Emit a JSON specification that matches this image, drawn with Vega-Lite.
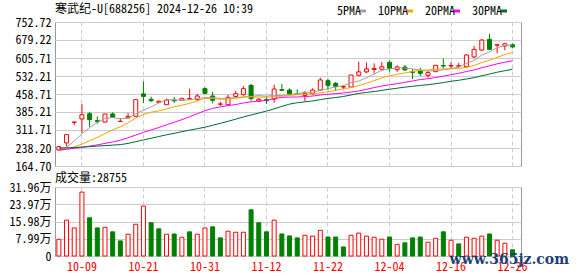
{
  "$schema": "https://vega.github.io/schema/vega-lite/v6.json",
  "padding": {"left": 8, "top": 2, "right": 0, "bottom": 0},
  "bounds": "flush",
  "spacing": 21,
  "background": "#ffffff",
  "title": {"text": "www.365jz.com", "orient": "bottom", "anchor": "end", "frame": "group", "dx": 48, "offset": -20, "font": "DejaVu Serif", "fontSize": 14, "fontWeight": "bold", "color": "#1c3f75"},
  "config": {
    "font": "Noto Sans Mono CJK SC, Noto Sans CJK SC, DejaVu Sans Mono",
    "view": {"stroke": "#999999", "strokeWidth": 1},
    "axis": {
      "labelFont": "Noto Sans Mono CJK SC, Noto Sans CJK SC, DejaVu Sans Mono",
      "labelFontSize": 12,
      "labelColor": "#000000",
      "labelOverlap": false,
      "gridColor": "#cccccc",
      "gridOpacity": 1,
      "ticks": false,
      "domain": false
    },
    "title": {"font": "Noto Sans Mono CJK SC, Noto Sans CJK SC", "fontSize": 12, "fontWeight": "normal", "color": "#000000", "anchor": "start", "frame": "group"}
  },
  "data": {
    "values": [
      {"d": "09-27", "o": 230, "h": 246, "l": 228, "c": 243.6, "v": 7.76, "vu": 1, "5PMA": 228, "10PMA": 228, "20PMA": 230, "30PMA": 238},
      {"d": "09-30", "o": 259, "h": 293, "l": 245, "c": 293, "v": 16.6, "vu": 1, "5PMA": 242, "10PMA": 233, "20PMA": 233, "30PMA": 239},
      {"d": "10-08", "o": 343, "h": 344.4, "l": 331, "c": 344.4, "v": 13.0, "vu": 1, "5PMA": 266, "10PMA": 243, "20PMA": 237, "30PMA": 240},
      {"d": "10-09", "o": 356.6, "h": 418, "l": 300, "c": 374, "v": 29.6, "vu": 1, "5PMA": 296, "10PMA": 254, "20PMA": 241, "30PMA": 242},
      {"d": "10-10", "o": 378, "h": 385, "l": 325, "c": 354, "v": 17.7, "vu": 0, "5PMA": 321.8, "10PMA": 268, "20PMA": 246, "30PMA": 244},
      {"d": "10-11", "o": 350, "h": 367, "l": 338, "c": 346, "v": 13.0, "vu": 0, "5PMA": 342.3, "10PMA": 281, "20PMA": 251, "30PMA": 246},
      {"d": "10-14", "o": 344, "h": 378, "l": 343, "c": 377, "v": 13.3, "vu": 1, "5PMA": 359.1, "10PMA": 297, "20PMA": 257, "30PMA": 248},
      {"d": "10-15", "o": 377, "h": 384, "l": 361, "c": 363, "v": 11.2, "vu": 0, "5PMA": 362.8, "10PMA": 312, "20PMA": 263, "30PMA": 250},
      {"d": "10-16", "o": 346.5, "h": 360, "l": 345, "c": 347, "v": 7.0, "vu": 0, "5PMA": 357.4, "10PMA": 325, "20PMA": 270, "30PMA": 252},
      {"d": "10-17", "o": 361, "h": 381, "l": 359, "c": 367, "v": 10.1, "vu": 1, "5PMA": 360, "10PMA": 340.9, "20PMA": 280, "30PMA": 257},
      {"d": "10-18", "o": 367.5, "h": 436, "l": 366, "c": 435.6, "v": 14.7, "vu": 1, "5PMA": 377.9, "10PMA": 360.1, "20PMA": 291, "30PMA": 264},
      {"d": "10-21", "o": 459, "h": 510, "l": 422, "c": 449, "v": 23.1, "vu": 1, "5PMA": 392.3, "10PMA": 375.7, "20PMA": 302, "30PMA": 271},
      {"d": "10-22", "o": 437, "h": 448, "l": 426, "c": 431.5, "v": 15.4, "vu": 0, "5PMA": 406, "10PMA": 384.4, "20PMA": 312, "30PMA": 278},
      {"d": "10-23", "o": 425, "h": 432, "l": 421, "c": 429, "v": 12.6, "vu": 0, "5PMA": 422.4, "10PMA": 389.9, "20PMA": 322, "30PMA": 285},
      {"d": "10-24", "o": 415, "h": 440, "l": 414, "c": 434, "v": 10.1, "vu": 1, "5PMA": 435.8, "10PMA": 397.9, "20PMA": 333, "30PMA": 292},
      {"d": "10-25", "o": 434, "h": 446, "l": 422, "c": 431, "v": 10.2, "vu": 0, "5PMA": 434.9, "10PMA": 406.4, "20PMA": 343, "30PMA": 298},
      {"d": "10-28", "o": 433, "h": 442, "l": 431, "c": 441, "v": 8.7, "vu": 1, "5PMA": 433.3, "10PMA": 412.8, "20PMA": 354, "30PMA": 305},
      {"d": "10-29", "o": 438, "h": 480, "l": 437, "c": 440, "v": 11.2, "vu": 0, "5PMA": 435, "10PMA": 420.5, "20PMA": 366, "30PMA": 311},
      {"d": "10-30", "o": 437, "h": 459, "l": 429, "c": 450.5, "v": 10.1, "vu": 1, "5PMA": 439.3, "10PMA": 430.9, "20PMA": 378, "30PMA": 317},
      {"d": "10-31", "o": 480.5, "h": 486, "l": 460, "c": 461.4, "v": 13.0, "vu": 1, "5PMA": 444.8, "10PMA": 440.3, "20PMA": 390.6, "30PMA": 323},
      {"d": "11-01", "o": 450.5, "h": 467, "l": 420.6, "c": 433, "v": 13.5, "vu": 0, "5PMA": 445.2, "10PMA": 440.0, "20PMA": 400.1, "30PMA": 331},
      {"d": "11-04", "o": 417, "h": 426, "l": 410, "c": 418, "v": 8.4, "vu": 0, "5PMA": 440.6, "10PMA": 436.9, "20PMA": 406.3, "30PMA": 339},
      {"d": "11-05", "o": 415, "h": 456, "l": 412, "c": 445, "v": 11.5, "vu": 1, "5PMA": 441.6, "10PMA": 438.3, "20PMA": 411.4, "30PMA": 347},
      {"d": "11-06", "o": 449, "h": 472, "l": 446, "c": 460, "v": 11.0, "vu": 1, "5PMA": 443.5, "10PMA": 441.4, "20PMA": 415.7, "30PMA": 356},
      {"d": "11-07", "o": 456, "h": 491, "l": 452, "c": 480.5, "v": 11.0, "vu": 1, "5PMA": 447.3, "10PMA": 446.0, "20PMA": 422.0, "30PMA": 365},
      {"d": "11-08", "o": 494, "h": 500, "l": 431, "c": 440, "v": 21.4, "vu": 0, "5PMA": 448.7, "10PMA": 446.9, "20PMA": 426.7, "30PMA": 373},
      {"d": "11-11", "o": 429, "h": 442, "l": 426, "c": 437, "v": 15.4, "vu": 0, "5PMA": 452.5, "10PMA": 446.5, "20PMA": 429.7, "30PMA": 381},
      {"d": "11-12", "o": 436, "h": 449, "l": 418, "c": 431, "v": 11.2, "vu": 0, "5PMA": 449.7, "10PMA": 445.6, "20PMA": 433.1, "30PMA": 389},
      {"d": "11-13", "o": 438, "h": 497, "l": 423, "c": 479, "v": 16.6, "vu": 1, "5PMA": 453.5, "10PMA": 448.5, "20PMA": 439.7, "30PMA": 398},
      {"d": "11-14", "o": 477, "h": 500, "l": 470, "c": 474, "v": 10.2, "vu": 0, "5PMA": 452.2, "10PMA": 449.8, "20PMA": 445.0, "30PMA": 408},
      {"d": "11-15", "o": 475, "h": 482, "l": 455, "c": 459, "v": 9.3, "vu": 0, "5PMA": 456, "10PMA": 452.4, "20PMA": 446.2, "30PMA": 417.5},
      {"d": "11-18", "o": 460, "h": 478, "l": 455, "c": 457, "v": 8.4, "vu": 0, "5PMA": 460, "10PMA": 456.3, "20PMA": 446.6, "30PMA": 423.0},
      {"d": "11-19", "o": 453, "h": 471, "l": 430, "c": 461, "v": 9.6, "vu": 1, "5PMA": 466, "10PMA": 457.9, "20PMA": 448.1, "30PMA": 426.9},
      {"d": "11-20", "o": 459, "h": 482, "l": 456, "c": 475, "v": 9.2, "vu": 1, "5PMA": 465.2, "10PMA": 459.4, "20PMA": 450.4, "30PMA": 430.3},
      {"d": "11-21", "o": 475, "h": 525, "l": 472, "c": 516, "v": 11.9, "vu": 1, "5PMA": 473.6, "10PMA": 462.9, "20PMA": 454.5, "30PMA": 435.7},
      {"d": "11-22", "o": 513, "h": 521, "l": 474, "c": 494, "v": 8.8, "vu": 0, "5PMA": 480.6, "10PMA": 468.3, "20PMA": 457.7, "30PMA": 440.6},
      {"d": "11-25", "o": 502, "h": 508, "l": 472, "c": 490, "v": 8.8, "vu": 0, "5PMA": 487.2, "10PMA": 473.6, "20PMA": 460.1, "30PMA": 444.3},
      {"d": "11-26", "o": 487, "h": 495, "l": 478, "c": 489, "v": 4.2, "vu": 0, "5PMA": 492.8, "10PMA": 479.4, "20PMA": 462.6, "30PMA": 448.6},
      {"d": "11-27", "o": 487, "h": 537, "l": 484, "c": 536, "v": 9.6, "vu": 1, "5PMA": 505, "10PMA": 485.1, "20PMA": 466.8, "30PMA": 454.9},
      {"d": "11-28", "o": 535, "h": 591, "l": 532, "c": 549, "v": 10.6, "vu": 1, "5PMA": 511.6, "10PMA": 492.6, "20PMA": 471.2, "30PMA": 460.9},
      {"d": "11-29", "o": 549, "h": 588, "l": 543, "c": 561, "v": 9.2, "vu": 1, "5PMA": 525, "10PMA": 502.8, "20PMA": 477.6, "30PMA": 465.1},
      {"d": "12-02", "o": 559, "h": 584, "l": 543, "c": 563, "v": 8.7, "vu": 1, "5PMA": 539.6, "10PMA": 513.4, "20PMA": 484.9, "30PMA": 468.9},
      {"d": "12-03", "o": 560, "h": 589, "l": 555, "c": 570, "v": 7.8, "vu": 1, "5PMA": 555.8, "10PMA": 524.3, "20PMA": 491.1, "30PMA": 473.5},
      {"d": "12-04", "o": 588, "h": 595, "l": 550, "c": 563.5, "v": 8.8, "vu": 0, "5PMA": 561.3, "10PMA": 533.2, "20PMA": 496.3, "30PMA": 478.0},
      {"d": "12-05", "o": 558, "h": 576, "l": 549, "c": 569, "v": 5.4, "vu": 1, "5PMA": 565.3, "10PMA": 538.5, "20PMA": 500.7, "30PMA": 482.5},
      {"d": "12-06", "o": 569, "h": 577, "l": 553, "c": 557, "v": 6.1, "vu": 0, "5PMA": 564.5, "10PMA": 544.8, "20PMA": 506.6, "30PMA": 486.7},
      {"d": "12-09", "o": 550, "h": 560, "l": 519, "c": 547, "v": 8.4, "vu": 0, "5PMA": 561.3, "10PMA": 550.5, "20PMA": 512.1, "30PMA": 490.2},
      {"d": "12-10", "o": 555, "h": 566, "l": 532, "c": 543, "v": 8.8, "vu": 0, "5PMA": 555.9, "10PMA": 555.9, "20PMA": 517.7, "30PMA": 493.7},
      {"d": "12-11", "o": 535, "h": 553, "l": 525, "c": 546, "v": 6.4, "vu": 1, "5PMA": 552.4, "10PMA": 556.9, "20PMA": 521.0, "30PMA": 496.8},
      {"d": "12-12", "o": 550, "h": 577, "l": 548, "c": 576, "v": 8.2, "vu": 1, "5PMA": 553.8, "10PMA": 559.6, "20PMA": 526.1, "30PMA": 500.7},
      {"d": "12-13", "o": 575, "h": 603, "l": 562, "c": 573, "v": 11.2, "vu": 0, "5PMA": 557, "10PMA": 560.8, "20PMA": 531.8, "30PMA": 505.3},
      {"d": "12-16", "o": 573, "h": 589, "l": 560, "c": 575, "v": 7.3, "vu": 1, "5PMA": 562.6, "10PMA": 562.0, "20PMA": 537.6, "30PMA": 510.6},
      {"d": "12-17", "o": 572, "h": 586, "l": 566, "c": 574, "v": 5.6, "vu": 0, "5PMA": 568.8, "10PMA": 562.4, "20PMA": 543.3, "30PMA": 514.7},
      {"d": "12-18", "o": 570, "h": 621, "l": 567, "c": 618, "v": 8.7, "vu": 1, "5PMA": 583.2, "10PMA": 567.8, "20PMA": 550.5, "30PMA": 519.9},
      {"d": "12-19", "o": 610, "h": 655, "l": 606, "c": 641, "v": 8.2, "vu": 1, "5PMA": 596.2, "10PMA": 575.0, "20PMA": 556.7, "30PMA": 525.3},
      {"d": "12-20", "o": 638, "h": 682, "l": 636, "c": 679, "v": 9.2, "vu": 1, "5PMA": 617.4, "10PMA": 587.2, "20PMA": 566.0, "30PMA": 533.3},
      {"d": "12-23", "o": 682, "h": 705, "l": 637, "c": 641, "v": 10.2, "vu": 0, "5PMA": 630.6, "10PMA": 596.6, "20PMA": 573.5, "30PMA": 540.1},
      {"d": "12-24", "o": 658, "h": 661, "l": 625, "c": 660, "v": 7.3, "vu": 1, "5PMA": 647.8, "10PMA": 608.3, "20PMA": 582.1, "30PMA": 547.7},
      {"d": "12-25", "o": 655, "h": 668, "l": 637, "c": 664, "v": 5.9, "vu": 1, "5PMA": 657, "10PMA": 620.1, "20PMA": 588.5, "30PMA": 553.9},
      {"d": "12-26", "o": 660, "h": 666, "l": 645, "c": 651, "v": 2.8755, "vu": 0, "5PMA": 659, "10PMA": 627.6, "20PMA": 593.6, "30PMA": 559.8}
    ]
  },
  "vconcat": [
    {
      "width": 466,
      "height": 144,
      "title": {"text": "寒武纪-U[688256] 2024-12-26 10:39", "offset": 0},
      "encoding": {
        "x": {
          "field": "d", "type": "ordinal",
          "scale": {"type": "band", "paddingInner": 0, "paddingOuter": 0.3, "align": 0},
          "axis": {"labels": false, "ticks": false, "domain": false, "grid": true, "gridDash": [4, 3], "bandPosition": 0.5, "title": null,
                   "values": ["10-09", "10-21", "10-31", "11-12", "11-22", "12-04", "12-16", "12-26"]}
        }
      },
      "layer": [
        {
          "mark": {"type": "rule", "strokeWidth": 1},
          "encoding": {
            "y": {"field": "l", "type": "quantitative", "scale": {"domain": [164.7, 752.72], "nice": false, "zero": false},
                  "axis": {"values": [164.7, 238.2, 311.71, 385.21, 458.71, 532.21, 605.71, 679.22, 752.72], "format": ".2f", "grid": true, "title": null, "labelPadding": 4, "labelOverlap": false}},
            "y2": {"field": "h"},
            "color": {"condition": {"test": "datum.c >= datum.o", "value": "#ff0000"}, "value": "#008000"}
          }
        },
        {
          "mark": {"type": "bar", "size": 4, "strokeWidth": 1},
          "encoding": {
            "y": {"field": "o", "type": "quantitative",
                  "axis": {"values": [164.7, 238.2, 311.71, 385.21, 458.71, 532.21, 605.71, 679.22, 752.72], "format": ".2f", "grid": true, "title": null, "labelPadding": 4, "labelOverlap": false}},
            "y2": {"field": "c"},
            "fill": {"condition": {"test": "datum.c >= datum.o", "value": "#ffffff"}, "value": "#008000"},
            "stroke": {"condition": {"test": "datum.c >= datum.o", "value": "#ff0000"}, "value": "#008000"}
          }
        },
        {
          "transform": [{"fold": ["5PMA", "10PMA", "20PMA", "30PMA"], "as": ["k", "m"]}],
          "mark": {"type": "line", "strokeWidth": 1},
          "encoding": {
            "y": {"field": "m", "type": "quantitative",
                  "axis": {"values": [164.7, 238.2, 311.71, 385.21, 458.71, 532.21, 605.71, 679.22, 752.72], "format": ".2f", "grid": true, "title": null, "labelPadding": 4, "labelOverlap": false}},
            "color": {
              "field": "k", "type": "nominal",
              "scale": {"domain": ["5PMA", "10PMA", "20PMA", "30PMA"], "range": ["#a0a0a0", "#f5a500", "#ff00ff", "#006b2d"]},
              "legend": {
                "orient": "none", "legendX": 302, "legendY": -17, "direction": "horizontal", "title": null,
                "symbolType": "stroke", "symbolStrokeWidth": 3, "symbolSize": 36,
                "labelAlign": "right", "labelOffset": -8, "columnPadding": 5, "padding": 0,
                "labelFont": "Noto Sans Mono CJK SC, DejaVu Sans Mono", "labelFontSize": 12, "labelColor": "#000000"
              }
            }
          }
        }
      ]
    },
    {
      "width": 466,
      "height": 69,
      "title": {"text": "成交量:28755", "offset": -4},
      "mark": {"type": "bar", "size": 4, "strokeWidth": 1},
      "encoding": {
        "x": {
          "field": "d", "type": "ordinal",
          "scale": {"type": "band", "paddingInner": 0, "paddingOuter": 0.3, "align": 0},
          "axis": {"labelAngle": 0, "labelColor": "#ff0000", "labelPadding": 5, "ticks": false, "domain": false, "grid": true, "gridDash": [4, 3], "bandPosition": 0.5, "title": null,
                   "values": ["10-09", "10-21", "10-31", "11-12", "11-22", "12-04", "12-16", "12-26"]}
        },
        "y": {
          "field": "v", "type": "quantitative",
          "scale": {"domain": [0, 31.96], "nice": false},
          "axis": {"values": [0, 7.99, 15.98, 23.97, 31.96], "labelExpr": "datum.value == 0 ? '0' : format(datum.value, '.2f') + '万'", "grid": true, "title": null, "labelPadding": 4, "labelOverlap": false}
        },
        "fill": {"condition": {"test": "datum.vu == 1", "value": "#ffffff"}, "value": "#008000"},
        "stroke": {"condition": {"test": "datum.vu == 1", "value": "#ff0000"}, "value": "#008000"}
      }
    }
  ]
}
